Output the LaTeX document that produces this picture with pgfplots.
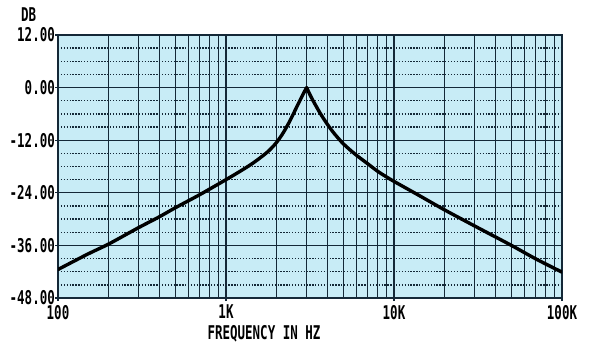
\documentclass[border=0pt]{standalone}
\usepackage{pgfplots}
\pgfplotsset{compat=1.18}
\usepackage{fontspec}
\newfontfamily\labfont[FakeStretch=0.66]{DejaVu Sans Mono Bold}
\definecolor{bgc}{RGB}{200,236,246}
\definecolor{gridc}{RGB}{20,40,55}
\newcommand{\lf}{\labfont\fontsize{19}{19}\selectfont}
\begin{document}
\begin{tikzpicture}[x=1bp,y=1bp]
\useasboundingbox (-58bp,-45bp) rectangle (532bp,298bp);
\begin{axis}[
  scale only axis,
  width=504bp, height=263bp,
  xmode=log,
  xmin=100, xmax=100000,
  ymin=-48, ymax=12,
  xtick={100,1000,10000,100000},
  xticklabels={100,1K,10K,100K},
  ytick={-48,-36,-24,-12,0,12},
  yticklabels={-48.00,-36.00,-24.00,-12.00,0.00,12.00},
  minor ytick={-45,-42,-39,-33,-30,-27,-21,-18,-15,-9,-6,-3,3,6,9},
  grid=both,
  major grid style={gridc, line width=1.3pt},
  minor x grid style={gridc, line width=1.0pt, solid},
  minor y grid style={gridc, line width=1.4pt, dash pattern=on 1.3pt off 1.6pt},
  axis background/.style={fill=bgc},
  axis line style={gridc, line width=1.4pt},
  tick style={gridc, line width=1.3pt},
  major tick length=3bp,
  minor tick length=0pt,
  tick align=outside,
  xtick pos=bottom, ytick pos=left,
  ticklabel style={font=\lf, text=black, inner sep=1bp},
  xticklabel style={yshift=-3bp},
  yticklabel style={xshift=1bp},
  clip=true,
]
\addplot[black, line width=3.4pt, line cap=round, smooth, tension=0.5] coordinates {
  (100,-41.5) (150,-38.0) (200,-35.7) (300,-32.0) (400,-29.5) (500,-27.4)
  (700,-24.4) (1000,-21.0) (1200,-19.2) (1400,-17.6) (1600,-16.0) (1800,-14.4)
  (2000,-12.5) (2200,-10.2) (2400,-7.6) (2630,-4.5) (2800,-2.4) (2950,-0.7) (3020,0)
};
\addplot[black, line width=3.4pt, line cap=round, smooth, tension=0.5] coordinates {
  (3020,0) (3150,-1.5) (3300,-3.0) (3630,-5.8) (4000,-8.3) (4350,-10.2) (4900,-12.5)
  (5470,-14.2) (6100,-15.7) (6880,-17.2) (8000,-19.1) (9040,-20.4) (10000,-21.4)
  (13650,-24.3) (20000,-27.9) (31000,-31.8) (50000,-36.0) (70000,-39.1) (100000,-42.1)
};
\end{axis}
\node[font=\lf, anchor=south west, inner sep=0pt] at (-37bp,276bp) {DB};
\node[font=\lf, anchor=center, inner sep=0pt] at (206bp,-36bp) {FREQUENCY IN HZ};
\end{tikzpicture}
\end{document}
